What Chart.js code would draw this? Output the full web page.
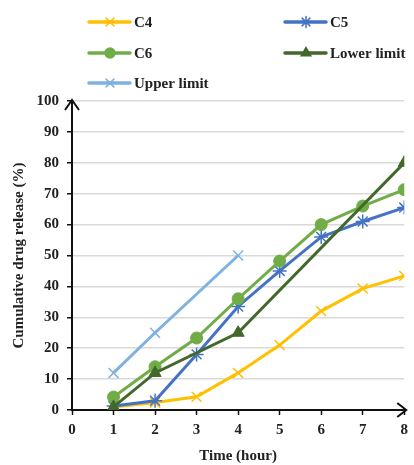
<!DOCTYPE html>
<html>
<head>
<meta charset="utf-8">
<script src="https://cdn.jsdelivr.net/npm/chart.js@4.4.0/dist/chart.umd.min.js"></script>
<style>
  html, body { margin: 0; padding: 0; background: #fff; }
  #wrap { position: relative; width: 414px; height: 465px; }
</style>
</head>
<body>
<div id="wrap"><canvas id="releaseChart" width="414" height="465"></canvas></div>
<script>
// Release profile data (time in hours, % released)
const hours = [1, 2, 3, 4, 5, 6, 7, 8];
const c4 = [1, 2.4, 4.3, 12, 21, 32, 39.3, 43.4];
const c5 = [1.3, 3, 18, 33.5, 45, 56, 61, 65.5];
const c6 = [4.2, 14, 23.3, 36, 48.2, 60, 66, 71.3];
const lowerHours = [1, 2, 4, 8];
const lowerLimit = [1, 12, 25, 80];
const upperHours = [1, 2, 4];
const upperLimit = [12, 25, 50];
const xTicks = [0, 1, 2, 3, 4, 5, 6, 7, 8];
const yTicks = [0, 10, 20, 30, 40, 50, 60, 70, 80, 90, 100];

const serif = "'Liberation Serif', 'DejaVu Serif', serif";

function toPoints(xs, ys) {
  return xs.map((x, i) => ({ x: x, y: ys[i] }));
}

function series(label, xs, ys, color, style, radius, order) {
  return {
    label: label,
    data: toPoints(xs, ys),
    borderColor: color,
    backgroundColor: color,
    borderWidth: 3,
    pointStyle: style,
    pointRadius: radius,
    pointBorderWidth: style === 'circle' || style === 'triangle' ? 1 : 1.5,
    pointBorderColor: color,
    pointBackgroundColor: color,
    tension: 0,
    order: order
  };
}

const datasets = [
  series('C4', hours, c4, '#FFC000', 'crossRot', 7, 5),
  series('C5', hours, c5, '#4472C4', 'star', 7, 4),
  series('C6', hours, c6, '#70AD47', 'circle', 6, 3),
  series('Lower limit', lowerHours, lowerLimit, '#43682B', 'triangle', 7, 2),
  series('Upper limit', upperHours, upperLimit, '#7FB2E0', 'crossRot', 7, 1)
];

// two-column legend drawn at the top of the canvas
const legendSlots = [
  { x: 89, y: 22 }, { x: 285, y: 22 },
  { x: 89, y: 53 }, { x: 285, y: 53 },
  { x: 89, y: 83 }
];

const legendPlugin = {
  id: 'twoColLegend',
  afterDraw(chart) {
    const ctx = chart.ctx;
    ctx.save();
    chart.data.datasets.forEach((ds, i) => {
      const s = legendSlots[i];
      ctx.strokeStyle = ds.borderColor;
      ctx.lineWidth = 3.5;
      ctx.lineCap = 'round';
      ctx.beginPath();
      ctx.moveTo(s.x, s.y);
      ctx.lineTo(s.x + 41, s.y);
      ctx.stroke();
      ctx.fillStyle = ds.backgroundColor;
      ctx.lineWidth = 1.5;
      Chart.helpers.drawPoint(ctx, { pointStyle: ds.pointStyle, radius: ds.pointStyle === 'circle' ? 5 : 5.5, rotation: 0, borderWidth: 1.5 }, s.x + 21, s.y);
      ctx.fillStyle = '#222';
      ctx.font = 'bold 15px ' + serif;
      ctx.textBaseline = 'middle';
      ctx.textAlign = 'left';
      ctx.fillText(ds.label, s.x + 45, s.y + 1);
    });
    ctx.restore();
  }
};

// arrow heads at the ends of both axes
const arrowPlugin = {
  id: 'axisArrows',
  afterDraw(chart) {
    const a = chart.chartArea;
    const ctx = chart.ctx;
    ctx.save();
    ctx.strokeStyle = '#111';
    ctx.lineWidth = 2;
    ctx.lineJoin = 'miter';
    ctx.beginPath();
    ctx.moveTo(a.left - 7, a.top + 9);
    ctx.lineTo(a.left, a.top - 1);
    ctx.lineTo(a.left + 7, a.top + 9);
    ctx.stroke();
    ctx.beginPath();
    ctx.moveTo(a.right - 7, a.bottom - 7);
    ctx.lineTo(a.right + 2, a.bottom);
    ctx.lineTo(a.right - 7, a.bottom + 7);
    ctx.stroke();
    ctx.restore();
  }
};

new Chart(document.getElementById('releaseChart'), {
  type: 'line',
  data: { datasets: datasets },
  options: {
    responsive: false,
    animation: false,
    layout: { padding: { top: 101, right: 5, left: 0, bottom: 0 } },
    plugins: {
      legend: { display: false },
      tooltip: { enabled: false }
    },
    scales: {
      x: {
        type: 'linear',
        min: 0,
        max: 8,
        afterFit: (scale) => { scale.height = 55; },
        afterBuildTicks: (scale) => { scale.ticks = xTicks.map(v => ({ value: v })); },
        grid: { drawOnChartArea: false, drawTicks: true, tickLength: 5, tickColor: '#111', tickWidth: 1.5 },
        border: { color: '#111', width: 2 },
        ticks: { color: '#222', padding: 6, font: { family: serif, size: 15, weight: 'bold' } },
        title: { display: true, text: 'Time (hour)', color: '#222', padding: { top: 15, bottom: 0 }, font: { family: serif, size: 15, weight: 'bold' } }
      },
      y: {
        min: 0,
        max: 100,
        afterFit: (scale) => { scale.width = 72; },
        afterBuildTicks: (scale) => { scale.ticks = yTicks.map(v => ({ value: v })); },
        grid: { color: '#D9D9D9', lineWidth: 1.5, drawTicks: true, tickLength: 5, tickColor: '#111', tickWidth: 1.5 },
        border: { color: '#111', width: 2 },
        ticks: { color: '#222', padding: 8, font: { family: serif, size: 15, weight: 'bold' } },
        title: { display: true, text: 'Cumulative drug release (%)', color: '#222', padding: { top: 10, bottom: 4 }, font: { family: serif, size: 15, weight: 'bold' } }
      }
    }
  },
  plugins: [legendPlugin, arrowPlugin]
});
</script>
</body>
</html>
